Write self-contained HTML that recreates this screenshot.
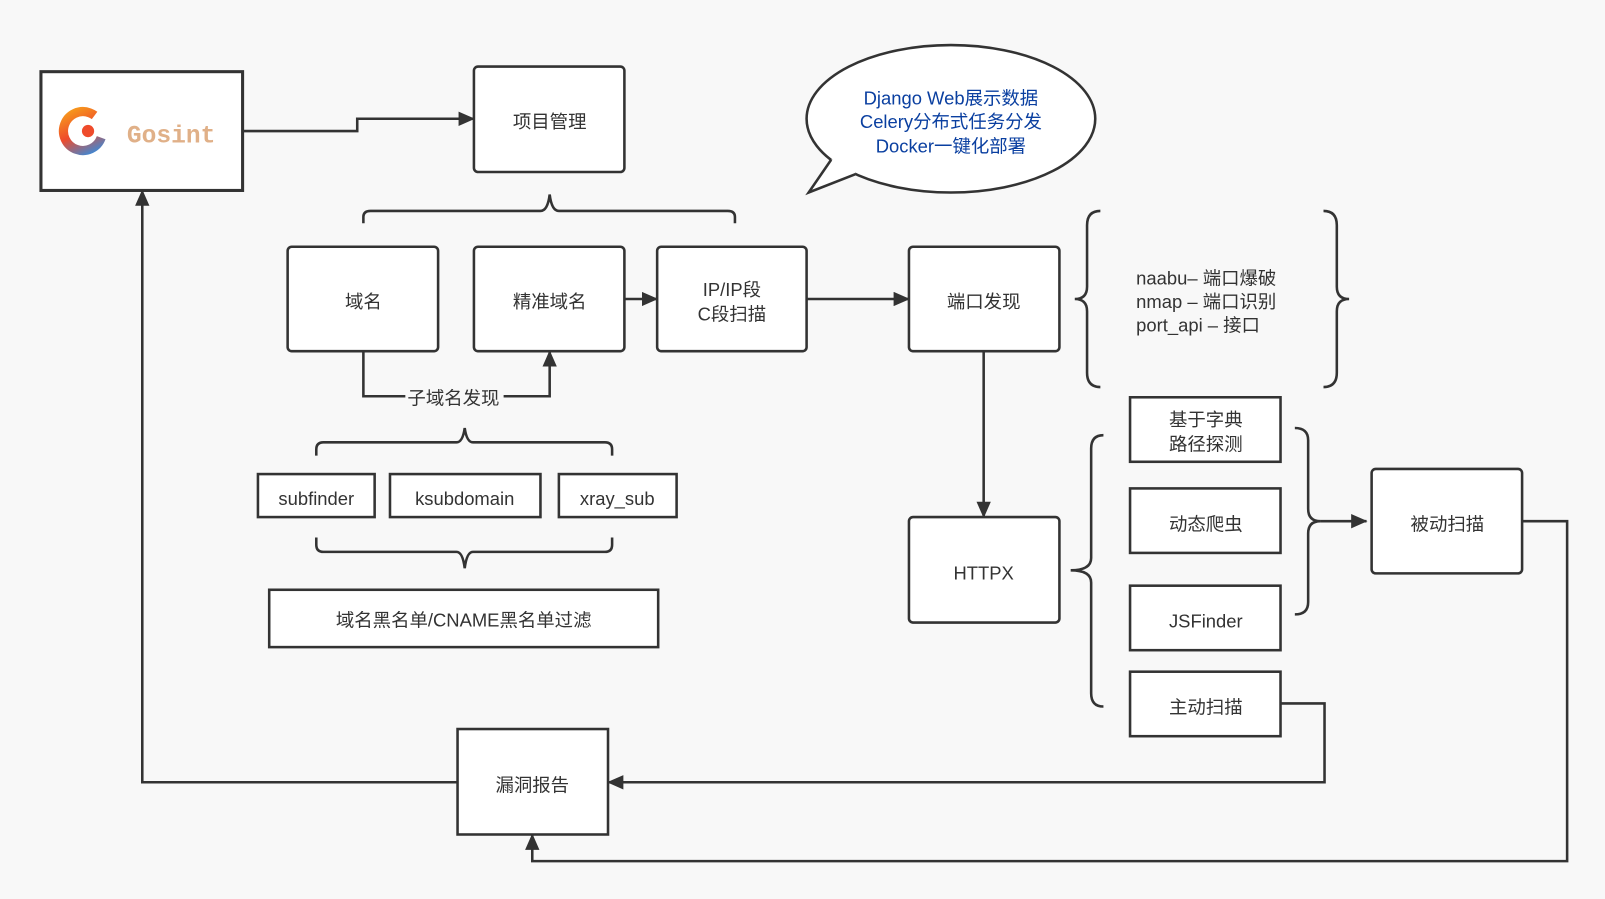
<!DOCTYPE html>
<html><head><meta charset="utf-8"><style>
html,body{margin:0;padding:0;background:#f8f8f8;}
svg{display:block}
text{font-family:"Liberation Sans","Noto Sans CJK SC",sans-serif;font-size:18px;fill:#333;}
</style></head><body>
<svg width="1605" height="899" viewBox="0 0 1568 878" preserveAspectRatio="none" xmlns="http://www.w3.org/2000/svg">
<defs>
<marker id="a" markerWidth="16" markerHeight="14" refX="15" refY="7" orient="auto" markerUnits="userSpaceOnUse" viewBox="0 0 16 14">
<path d="M0,0 L16,7 L0,14 z" fill="#333"/></marker>
<linearGradient id="g" x1="0" y1="0" x2="1" y2="1"><stop offset="0" stop-color="#f7a21b"/><stop offset="0.5" stop-color="#ef4b2b"/><stop offset="1" stop-color="#2b8ee6"/></linearGradient>
</defs>
<rect width="1568" height="878" fill="#f8f8f8"/>
<g stroke="#333" stroke-width="2.5" fill="#fff">
<rect x="40" y="70" width="197" height="116" stroke-width="3"/>
<rect x="463" y="65" width="147" height="103" rx="4"/>
<rect x="281" y="241" width="147" height="102" rx="4"/>
<rect x="463" y="241" width="147" height="102" rx="4"/>
<rect x="642" y="241" width="146" height="102" rx="4"/>
<rect x="888" y="241" width="147" height="102" rx="4"/>
<rect x="888" y="505" width="147" height="103" rx="4"/>
<rect x="252" y="463" width="114" height="42"/>
<rect x="381" y="463" width="147" height="42"/>
<rect x="546" y="463" width="115" height="42"/>
<rect x="263" y="576" width="380" height="56"/>
<rect x="1104" y="388" width="147" height="63"/>
<rect x="1104" y="477" width="147" height="63"/>
<rect x="1104" y="572" width="147" height="63"/>
<rect x="1104" y="656" width="147" height="63"/>
<rect x="1340" y="458" width="147" height="102" rx="4"/>
<rect x="447" y="712" width="147" height="103"/>
<ellipse cx="929" cy="116" rx="141" ry="72"/>
<path d="M812,156 L790,188 L836,170 L830,150 Z" stroke="none"/>
<path d="M812,156 L790,188 L836,170" fill="none" stroke-linejoin="miter"/>
</g>
<g stroke="#333" stroke-width="2.5" fill="none">
<path d="M237,128 H349 V116 H463" marker-end="url(#a)"/>
<path d="M610,292 H642" marker-end="url(#a)"/>
<path d="M788,292 H888" marker-end="url(#a)"/>
<path d="M355,343 V387 H537 V343" marker-end="url(#a)"/>
<path d="M961,343 V505" marker-end="url(#a)"/>
<path d="M1290,509 H1335" marker-end="url(#a)"/>
<path d="M1487,509 H1531 V841 H520 V815" marker-end="url(#a)"/>
<path d="M1251,687 H1294 V764 H594" marker-end="url(#a)"/>
<path d="M447,764 H139 V186" marker-end="url(#a)"/>
<path d="M355,218 V212 Q355,206 362,206 H528 Q535,206 537,190 Q539,206 546,206 H711 Q718,206 718,212 V218"/>
<path d="M309,445 V439 Q309,432 316,432 H446 Q452,432 454,418 Q456,432 462,432 H591 Q598,432 598,439 V445"/>
<path d="M309,525 V532 Q309,539 316,539 H446 Q452,539 454,555 Q456,539 462,539 H591 Q598,539 598,532 V525"/>
<path d="M1075,206 Q1062,206 1062,220 V280 Q1062,292 1050,292 Q1062,292 1062,304 V364 Q1062,378 1075,378"/>
<path d="M1293,206 Q1306,206 1306,220 V280 Q1306,292 1318,292 Q1306,292 1306,304 V364 Q1306,378 1293,378"/>
<path d="M1078,425 Q1066,425 1066,438 V545 Q1066,557 1046,557 Q1066,557 1066,569 V677 Q1066,690 1078,690"/>
<path d="M1265,418 Q1278,418 1278,430 V497 Q1278,509 1290,509 Q1278,509 1278,521 V588 Q1278,600 1265,600"/>
</g>
<rect x="396" y="376" width="96" height="24" fill="#f8f8f8"/>
<circle cx="81" cy="128" r="19" fill="none" stroke="url(#g)" stroke-width="9" stroke-dasharray="95 25" transform="rotate(20 81 128)"/>
<circle cx="86" cy="128" r="6" fill="#ef4b2b"/>
<text x="124" y="139" style="font-size:24px;font-weight:bold;fill:#e0b088;font-family:'Liberation Mono',monospace">Gosint</text>
<g text-anchor="middle">
<text x="537" y="125">项目管理</text>
<text x="355" y="301">域名</text>
<text x="537" y="301">精准域名</text>
<text x="715" y="289">IP/IP段</text>
<text x="715" y="313">C段扫描</text>
<text x="961" y="301">端口发现</text>
<text x="443" y="395">子域名发现</text>
<text x="309" y="493">subfinder</text>
<text x="454" y="493">ksubdomain</text>
<text x="603" y="493">xray_sub</text>
<text x="453" y="612">域名黑名单/CNAME黑名单过滤</text>
<text x="961" y="566">HTTPX</text>
<text x="1178" y="416">基于字典</text>
<text x="1178" y="440">路径探测</text>
<text x="1178" y="518">动态爬虫</text>
<text x="1178" y="613">JSFinder</text>
<text x="1178" y="697">主动扫描</text>
<text x="1414" y="518">被动扫描</text>
<text x="520" y="773">漏洞报告</text>
<text x="929" y="102" style="fill:#0a3fa0">Django Web展示数据</text>
<text x="929" y="125" style="fill:#0a3fa0">Celery分布式任务分发</text>
<text x="929" y="149" style="fill:#0a3fa0">Docker一键化部署</text>
</g>
<text x="1110" y="278">naabu– 端口爆破</text>
<text x="1110" y="301">nmap – 端口识别</text>
<text x="1110" y="324">port_api –    接口</text>
</svg>
</body></html>
